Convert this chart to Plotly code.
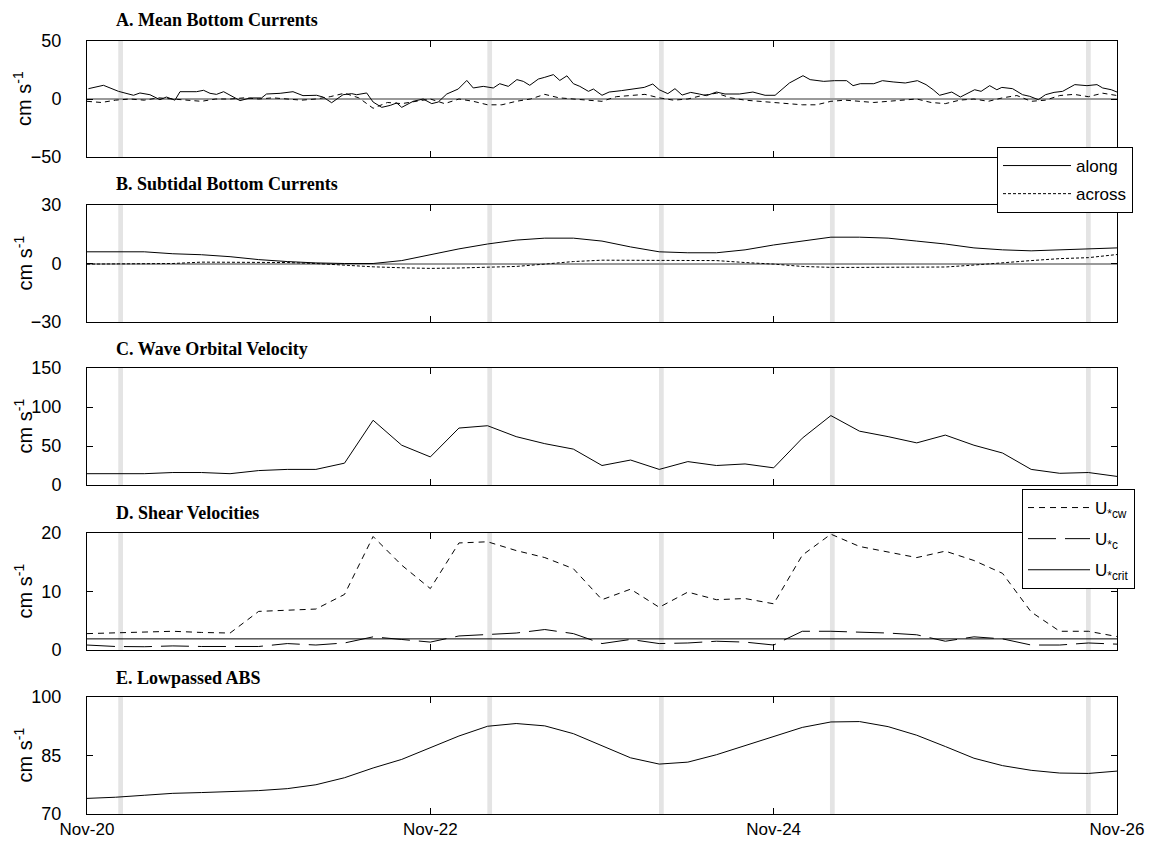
import plotly.graph_objects as go

# ---------------- data (time in hours since Nov-20 00:00) ----------------
tick_hours = [0, 48, 96, 144]
tick_labels = ["Nov-20", "Nov-22", "Nov-24", "Nov-26"]
band_hours = [4.7, 56.3, 80.3, 104.2, 140.0]

# A. Mean bottom currents
a_along_t = [0.2, 2.3, 4.4, 6.5, 7.4, 8.8, 10.2, 11.1, 12.3, 13.0, 15.3, 16.3, 17.2, 18.1, 19.1,
             20.5, 21.4, 22.8, 24.4, 25.1, 27.0, 28.8, 30.2, 32.1, 33.0, 34.2, 35.8, 37.0, 37.7,
             39.1, 40.0, 41.2, 42.4, 43.3, 44.0, 45.6, 47.0, 48.2, 49.1, 50.3, 51.9, 53.1, 54.0,
             55.4, 56.8, 57.7, 58.9, 60.1, 61.0, 61.9, 63.1, 64.0, 65.2, 66.1, 67.1, 68.0, 68.9,
             70.1, 70.8, 72.0, 73.0, 74.7, 76.6, 77.9, 79.1, 80.0, 81.2, 82.2, 83.2, 84.4, 85.6,
             86.6, 88.0, 89.2, 91.2, 93.1, 94.8, 96.2, 98.2, 100.1, 101.1, 103.0, 104.5, 106.2,
             107.1, 108.1, 110.0, 111.2, 112.7, 114.4, 116.1, 117.3, 118.3, 119.2, 120.9, 122.1,
             124.1, 125.0, 126.2, 127.2, 127.9, 129.4, 130.8, 131.8, 133.0, 134.0, 135.2, 136.4,
             138.1, 139.8, 141.2, 142.0, 143.2, 144.0]
a_along = [8.9, 11.8, 6.6, 3.2, 5.2, 3.7, -0.6, 1.7, -1.0, 6.3, 6.3, 7.5, 4.9, 4.0, 6.3,
           2.0, -1.4, 0.9, 0.9, 4.3, 4.9, 6.3, 2.9, 3.2, 1.7, -3.2, 3.7, 4.6, 3.7,
           5.2, -2.6, -7.2, -5.5, -3.4, -7.2, -2.0, 0.0, -4.0, -2.6, 4.3, 8.6, 16.0, 9.5,
           10.9, 9.5, 13.2, 10.9, 16.7, 15.2, 11.8, 17.2, 18.7, 21.0, 16.0, 20.0, 13.2, 10.9,
           6.6, 8.6, 3.2, 6.0, 7.2, 8.9, 10.0, 12.9, 8.0, 4.6, 8.9, 3.4, 5.7, 4.3,
           2.9, 6.0, 4.3, 4.3, 6.0, 3.2, 3.2, 13.8, 20.1, 16.7, 15.2, 15.8, 15.8,
           11.5, 13.2, 13.2, 15.8, 14.7, 13.8, 15.8, 12.4, 8.0, 3.2, 6.0, 1.7,
           8.0, 6.6, 11.5, 8.0, 10.0, 8.9, 3.7, 2.3, -0.6, 3.7, 5.7, 6.6,
           12.4, 11.5, 12.4, 9.5, 8.0, 6.0]
a_across_t = list(range(0, 145, 2))
a_across = [-2, -3, -1, 0, -1, 1, 0, -1, -2, 0, 0, 1, 0, 1, 0, -1, 0, 2, 5, 1,
            -8, -3, -4, -2, 0, -4, 0, -2, -5, -5, -2, 0, 4, 1, 0, -1, -2, 2, 3, 4,
            1, -1, 0, 3, 5, 1, -1, -2, -3, -4, -5, -5, -2, -1, -2, -3, -2, -1, 0, -3,
            -4, -1, 0, -2, 1, 3, -2, -1, 3, 4, 2, 5, 3]

# 4-hourly series
t4 = list(range(0, 145, 4))
b_along = [6, 6, 6, 5, 4.5, 3.5, 2, 1, 0.3, 0, 0, 1.5, 4.5, 7.5, 10, 12, 13, 13, 11.5, 8.5,
           6, 5.5, 5.5, 7, 9.5, 11.5, 13.5, 13.5, 13, 11.5, 10, 8, 7, 6.5, 7, 7.5, 8]
b_across = [-0.3, -0.3, -0.3, 0, 0.7, 0.7, 0.7, 0.5, 0, -1, -1.7, -2.2, -2.5, -2.3, -2, -1.5,
            -0.3, 1, 1.7, 1.7, 1.7, 1.7, 1.5, 0.5, -0.3, -1.5, -2, -2, -2, -2, -1.8, -0.8,
            0.5, 1.5, 2.5, 3, 4.6]
c_orbital = [14.5, 14.5, 14.5, 16, 16, 14.5, 18.5, 20, 20, 28, 83, 51, 36, 73, 76, 62, 53, 46,
             25, 32, 20, 30, 25, 27, 22, 60, 89, 69, 62, 54, 64, 51, 41, 20, 15, 16, 11]
d_ucw = [2.8, 2.9, 3.0, 3.2, 3.0, 2.9, 6.6, 6.8, 7.0, 9.5, 19.4, 14.5, 10.5, 18.3, 18.5, 17.0,
         15.8, 13.9, 8.6, 10.4, 7.3, 9.9, 8.6, 8.8, 7.9, 16.2, 19.8, 17.7, 16.7, 15.8, 16.9,
         15.3, 13.1, 6.5, 3.2, 3.2, 2.3]
d_uc = [0.85, 0.6, 0.56, 0.7, 0.6, 0.56, 0.6, 1.1, 0.85, 1.2, 2.25, 1.8, 1.35, 2.4, 2.6, 2.9,
        3.5, 2.8, 1.1, 1.8, 1.1, 1.2, 1.5, 1.35, 0.85, 3.2, 3.2, 3.1, 2.9, 2.6, 1.5, 2.25,
        1.9, 0.85, 0.85, 1.2, 1.0]
d_ucrit = 1.9
e_abs = [74, 74.3, 74.8, 75.3, 75.5, 75.7, 76, 76.5, 77.5, 79.3, 81.8, 84, 86.9, 90, 92.5,
         93.2, 92.6, 90.6, 87.5, 84.4, 82.8, 83.3, 85.2, 87.6, 90, 92.2, 93.6, 93.7, 92.4,
         90.2, 87.3, 84.3, 82.4, 81.2, 80.5, 80.4, 81]

# ---------------- figure ----------------
W, H = 1161, 848
x_dom = [87 / W, 1117 / W]
panels = [
    dict(top=41, bot=157, rng=[-50, 50], tv=[-50, 0, 50], zero=True,
         title="A. Mean Bottom Currents", ty=20),
    dict(top=205, bot=322, rng=[-30, 30], tv=[-30, 0, 30], zero=True,
         title="B. Subtidal Bottom Currents", ty=184),
    dict(top=368, bot=485, rng=[0, 150], tv=[0, 50, 100, 150], zero=False,
         title="C. Wave Orbital Velocity", ty=349),
    dict(top=533, bot=650, rng=[0, 20], tv=[0, 10, 20], zero=False,
         title="D. Shear Velocities", ty=513),
    dict(top=697, bot=814, rng=[70, 100], tv=[70, 85, 100], zero=False,
         title="E. Lowpassed ABS", ty=678),
]

fig = go.Figure()
line_k = dict(color="black", width=1)
dash_s = "5px,4px"

# A
fig.add_trace(go.Scatter(x=a_along_t, y=a_along, mode="lines", line=line_k,
                         xaxis="x", yaxis="y", showlegend=False))
fig.add_trace(go.Scatter(x=a_across_t, y=a_across, mode="lines",
                         line=dict(color="black", width=1, dash=dash_s),
                         xaxis="x", yaxis="y", showlegend=False))
# B
fig.add_trace(go.Scatter(x=t4, y=b_along, mode="lines", line=line_k, name="along",
                         xaxis="x2", yaxis="y2", legend="legend", legendgroup="g1"))
fig.add_trace(go.Scatter(x=t4, y=b_across, mode="lines",
                         line=dict(color="black", width=1, dash="3px,2px"), name="across",
                         xaxis="x2", yaxis="y2", legend="legend", legendgroup="g2"))
# C
fig.add_trace(go.Scatter(x=t4, y=c_orbital, mode="lines", line=line_k,
                         xaxis="x3", yaxis="y3", showlegend=False))
# D
fig.add_trace(go.Scatter(x=t4, y=d_ucw, mode="lines",
                         line=dict(color="black", width=1, dash="6px,5px"),
                         name="U<sub>*cw</sub>", xaxis="x4", yaxis="y4",
                         legend="legend2", legendgroup="h1"))
fig.add_trace(go.Scatter(x=t4, y=d_uc, mode="lines",
                         line=dict(color="black", width=1, dash="28px,9px"),
                         name="U<sub>*c</sub>", xaxis="x4", yaxis="y4",
                         legend="legend2", legendgroup="h2"))
fig.add_trace(go.Scatter(x=[tick_hours[0], tick_hours[-1]], y=[d_ucrit, d_ucrit], mode="lines",
                         line=line_k, name="U<sub>*crit</sub>", xaxis="x4", yaxis="y4",
                         legend="legend2", legendgroup="h3"))
# E
fig.add_trace(go.Scatter(x=t4, y=e_abs, mode="lines", line=line_k,
                         xaxis="x5", yaxis="y5", showlegend=False))

layout = dict(
    width=W, height=H,
    margin=dict(l=0, r=0, t=0, b=0, autoexpand=False),
    paper_bgcolor="white", plot_bgcolor="white",
    font=dict(family="Arial, Liberation Sans, sans-serif", color="black", size=20),
    legend=dict(x=997 / W, y=1 - 147 / H, xanchor="left", yanchor="top",
                bgcolor="white", bordercolor="black", borderwidth=1,
                font=dict(size=17), tracegroupgap=3, itemwidth=68, entrywidth=64),
    legend2=dict(x=1022 / W, y=1 - 489 / H, xanchor="left", yanchor="top",
                 bgcolor="white", bordercolor="black", borderwidth=1,
                 font=dict(size=17), tracegroupgap=6, itemwidth=62, entrywidth=44),
    shapes=[], annotations=[],
)

for i, p in enumerate(panels):
    sfx = "" if i == 0 else str(i + 1)
    ax_id = "x" + sfx
    ay_id = "y" + sfx
    last = (i == len(panels) - 1)
    layout["xaxis" + sfx] = dict(
        domain=x_dom, anchor=ay_id, range=[tick_hours[0], tick_hours[-1]],
        tickvals=tick_hours, ticktext=tick_labels, showticklabels=last,
        ticks="inside", ticklen=6, tickwidth=1, tickcolor="black",
        showline=True, linecolor="black", linewidth=1, mirror="ticks",
        showgrid=False, zeroline=False, automargin=False,
        tickfont=dict(family="Liberation Sans Narrow, Arial Narrow, Arial, sans-serif", size=17),
    )
    layout["yaxis" + sfx] = dict(
        domain=[1 - p["bot"] / H, 1 - p["top"] / H], anchor=ax_id, range=p["rng"],
        tickvals=p["tv"], ticks="inside", ticklen=6, tickwidth=1, tickcolor="black",
        showline=True, linecolor="black", linewidth=1, mirror="ticks",
        showgrid=False, zeroline=p["zero"], zerolinecolor="#9a9a9a", zerolinewidth=1.5,
        automargin=False, tickfont=dict(size=18), ticklabelstandoff=21,
    )
    for bt in band_hours:
        layout["shapes"].append(dict(
            type="rect", xref=ax_id, yref=ay_id + " domain", x0=bt - 0.33, x1=bt + 0.33,
            y0=0, y1=1, fillcolor="#e4e4e4", line=dict(width=0), layer="below"))
    layout["annotations"].append(dict(
        text="<b>" + p["title"] + "</b>", xref="paper", yref="paper",
        x=114 / W, y=1 - p["ty"] / H, xanchor="left", yanchor="middle", showarrow=False,
        font=dict(family="Liberation Serif, Times New Roman, serif", size=18, color="black")))
    layout["annotations"].append(dict(
        text="cm s<sup>-1</sup>", xref="paper", yref="paper", textangle=-90,
        x=23 / W, y=1 - (p["top"] + p["bot"]) / 2 / H, xanchor="center", yanchor="middle",
        showarrow=False, font=dict(size=20, color="black")))

fig.update_layout(**layout)
fig.write_html("out.html")
